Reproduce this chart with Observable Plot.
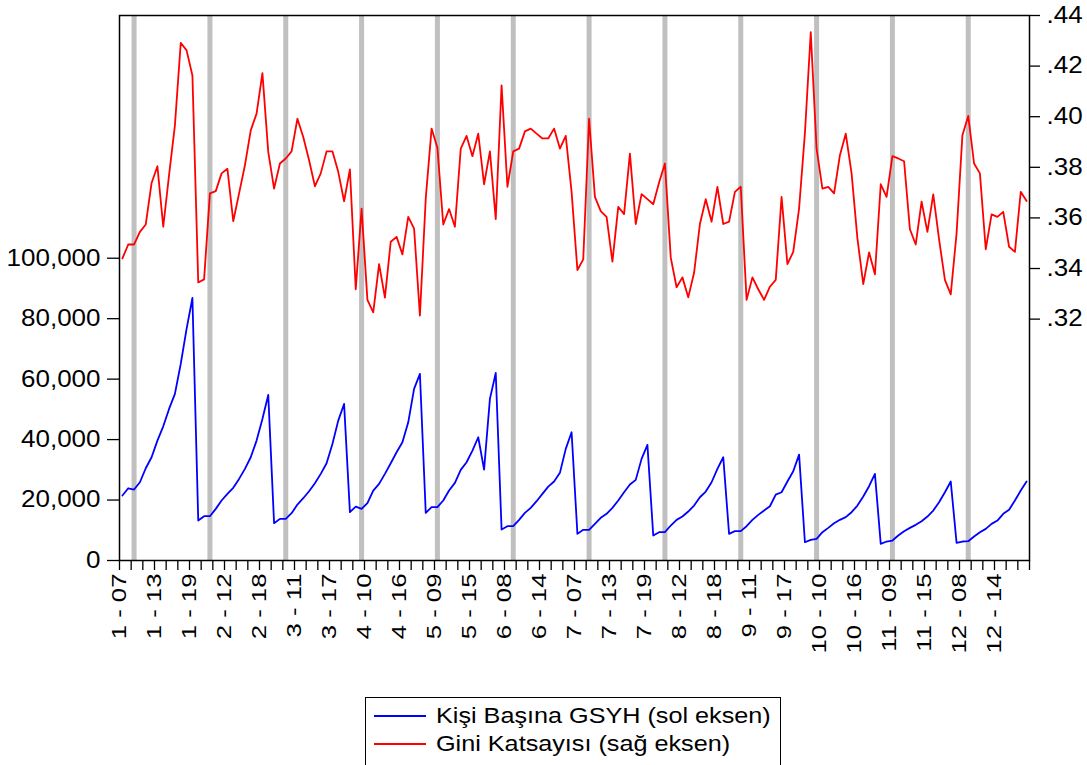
<!DOCTYPE html>
<html>
<head>
<meta charset="utf-8">
<script src="https://cdn.jsdelivr.net/npm/d3@7"></script>
<script src="https://cdn.jsdelivr.net/npm/@observablehq/plot@0.6"></script>
<style>
  body { margin: 0; background: #fff; font-family: "Liberation Sans", Arial, sans-serif; }
  #wrap { position: relative; width: 1087px; height: 765px; overflow: hidden; background: #fff; }
  #chart { position: absolute; left: 0; top: 0; }
  #legend { position: absolute; left: 365px; top: 697px; width: 416px; height: 90px;
            border: 1px solid #000; box-sizing: border-box; background: #fff; }
  .row { position: absolute; left: 0; height: 28px; display: flex; align-items: center; }
  .sw { width: 52px; height: 0; border-top: 2px solid; margin-left: 8px; margin-right: 10px; }
  .lt { font-size: 22.5px; color: #000; white-space: nowrap; display: inline-block;
        transform: scaleX(1.12); transform-origin: left center; }
</style>
</head>
<body>
<div id="wrap">
  <div id="chart"></div>
  <div id="legend">
    <div class="row" style="top:4px"><div class="sw" style="border-color:#0000ff"></div><span class="lt" id="l1"></span></div>
    <div class="row" style="top:32px"><div class="sw" style="border-color:#ff0000"></div><span class="lt" id="l2"></span></div>
  </div>
</div>
<script>
// ---- data ----
const units = [1, 2, 3, 4, 5, 6, 7, 8, 9, 10, 11, 12];
const years = ["07", "08", "09", "10", "11", "12", "13", "14", "15", "16", "17", "18", "19"];
const shadedYear = "09";

// Kişi Başına GSYH (left axis), by unit, years 2007..2019
const gdp = [
  21490, 23900, 23470, 25890, 30520, 34150, 39670, 44400, 50140, 55100, 65030, 76600, 86850,
  13220, 14650, 14650, 17080, 19840, 22040, 24030, 27000, 30300, 34150, 39670, 46840, 54780,
  12340, 13780, 13780, 15640, 18510, 20600, 22920, 25560, 28660, 32170, 38570, 46280, 51800,
  15980, 17850, 17080, 18950, 23140, 25360, 28660, 32170, 35810, 39110, 45720, 56760, 61720,
  15760, 17630, 17630, 19840, 23140, 25690, 29990, 32500, 36370, 40770, 30080, 53460, 62050,
  10250, 11340, 11340, 13450, 15760, 17410, 19620, 22040, 24460, 26120, 28990, 36920, 42420,
  8810, 10140, 10140, 12120, 14110, 15430, 17410, 19840, 22590, 25130, 26670, 33620, 38250,
  8270, 9370, 9370, 11570, 13450, 14550, 16200, 18180, 20930, 22810, 25890, 30300, 34150,
  8810, 9700, 9700, 11340, 13450, 15100, 16530, 17950, 21820, 22590, 26120, 29520, 35040,
  6050, 6840, 7170, 9370, 10800, 12340, 13450, 14330, 15980, 18180, 21160, 24570, 28660,
  5510, 6280, 6610, 8270, 9700, 10800, 11800, 12990, 14550, 16530, 19290, 22590, 26120,
  5840, 6280, 6380, 7930, 9370, 10470, 12120, 13220, 15430, 16760, 19840, 23140, 26120
];

// Gini Katsayısı (right axis)
const gini = [
  0.3440, 0.3495, 0.3495, 0.3545, 0.3574, 0.3738, 0.3804, 0.3565, 0.3770, 0.3966, 0.4292, 0.4262, 0.4163,
  0.3345, 0.3357, 0.3697, 0.3706, 0.3776, 0.3794, 0.3587, 0.3697, 0.3808, 0.3946, 0.4012, 0.4172, 0.3861,
  0.3716, 0.3815, 0.3835, 0.3863, 0.3992, 0.3920, 0.3828, 0.3725, 0.3776, 0.3863, 0.3863, 0.3782, 0.3666,
  0.3792, 0.3318, 0.3637, 0.3276, 0.3227, 0.3417, 0.3285, 0.3506, 0.3525, 0.3456, 0.3604, 0.3558, 0.3214,
  0.3677, 0.3953, 0.3877, 0.3574, 0.3635, 0.3565, 0.3874, 0.3924, 0.3844, 0.3933, 0.3733, 0.3863, 0.3595,
  0.4124, 0.3723, 0.3863, 0.3874, 0.3942, 0.3953, 0.3933, 0.3914, 0.3914, 0.3953, 0.3874, 0.3924, 0.3703,
  0.3394, 0.3436, 0.3992, 0.3683, 0.3627, 0.3604, 0.3427, 0.3644, 0.3615, 0.3854, 0.3576, 0.3694, 0.3674,
  0.3654, 0.3740, 0.3815, 0.3443, 0.3326, 0.3365, 0.3286, 0.3383, 0.3576, 0.3674, 0.3585, 0.3723, 0.3576,
  0.3585, 0.3703, 0.3723, 0.3276, 0.3365, 0.3318, 0.3276, 0.3328, 0.3355, 0.3683, 0.3417, 0.3466, 0.3637,
  0.3935, 0.4334, 0.3874, 0.3716, 0.3723, 0.3697, 0.3848, 0.3933, 0.3776, 0.3519, 0.3338, 0.3464, 0.3377,
  0.3733, 0.3683, 0.3844, 0.3835, 0.3824, 0.3555, 0.3495, 0.3664, 0.3545, 0.3693, 0.3515, 0.3355, 0.3298,
  0.3539, 0.3927, 0.4003, 0.3815, 0.3776, 0.3476, 0.3614, 0.3604, 0.3624, 0.3486, 0.3466, 0.3703, 0.3667
];

const xTickLabels = ["1 - 07", "1 - 13", "1 - 19", "2 - 12", "2 - 18", "3 - 11", "3 - 17", "4 - 10", "4 - 16",
  "5 - 09", "5 - 15", "6 - 08", "6 - 14", "7 - 07", "7 - 13", "7 - 19", "8 - 12", "8 - 18", "9 - 11", "9 - 17",
  "10 - 10", "10 - 16", "11 - 09", "11 - 15", "12 - 08", "12 - 14"];
const leftTicks = [0, 20000, 40000, 60000, 80000, 100000];
const rightTicks = [0.32, 0.34, 0.36, 0.38, 0.40, 0.42, 0.44];
const leftDomain = [0, 180300];
const rightDomain = [0.2246, 0.44];
const legendLabels = ["Kişi Başına GSYH (sol eksen)", "Gini Katsayısı (sağ eksen)"];

// ---- build ----
const obsKeys = units.flatMap(u => years.map(y => `${u} - ${y}`));
const idx = new Map(obsKeys.map((k, i) => [k, i]));
const rows = obsKeys.map((k, i) => ({key: k, i, gdp: gdp[i], gini: gini[i]}));
const shaded = units.map(u => idx.get(`${u} - ${shadedYear}`));

const toLeft = v => (v - rightDomain[0]) / (rightDomain[1] - rightDomain[0]) * (leftDomain[1] - leftDomain[0]) + leftDomain[0];
const fromLeft = d => (d - leftDomain[0]) / (leftDomain[1] - leftDomain[0]) * (rightDomain[1] - rightDomain[0]) + rightDomain[0];

const n = obsKeys.length;
const tickPos = d3.range(-0.5, n, 2);
const labelPos = xTickLabels.map(l => idx.get(l) - 0.5);
const fmtR = v => d3.format(".2f")(v).replace(/^0/, "");

const chart = Plot.plot({
  width: 1087,
  height: 692,
  marginLeft: 119,
  marginRight: 58,
  marginTop: 15,
  marginBottom: 132,
  style: {fontFamily: "'Liberation Sans', Arial, sans-serif", fontSize: "22px", color: "#000", background: "#fff", overflow: "visible"},
  x: {domain: [-0.5, n - 0.5], axis: null},
  y: {domain: leftDomain, axis: null},
  marks: [
    Plot.ruleX(shaded, {x: d => d, stroke: "#c0c0c0", strokeWidth: 5}),
    Plot.line(rows, {x: "i", y: "gdp", stroke: "#0000ff", strokeWidth: 1.8}),
    Plot.line(rows, {x: "i", y: d => toLeft(d.gini), stroke: "#ff0000", strokeWidth: 1.8}),
    Plot.frame({stroke: "#000", strokeWidth: 1.5}),
    Plot.axisY({anchor: "left", ticks: leftTicks, tickFormat: d3.format(","), tickSize: 12, tickPadding: 7, fontSize: 23, label: null, stroke: "#000", strokeWidth: 1.3}),
    Plot.axisY({anchor: "right", ticks: rightTicks.map(toLeft), tickFormat: d => fmtR(fromLeft(d)), tickSize: 10, tickPadding: 7, fontSize: 23, label: null, stroke: "#000", strokeWidth: 1.3}),
    Plot.axisX({ticks: tickPos, tickFormat: () => "", tickSize: 10, label: null, stroke: "#000", strokeWidth: 1.3}),
    Plot.axisX({ticks: labelPos, tickFormat: d => obsKeys[Math.round(d + 0.5)], tickSize: 0, tickPadding: 13, tickRotate: -90, fontSize: 19.5, label: null})
  ]
});
document.getElementById("chart").append(chart);

// widen tick label glyphs to match the reference's stretched type
chart.querySelectorAll("g[aria-label='y-axis tick label'] text").forEach(t => {
  const L = t.getComputedTextLength();
  if (L > 0) { t.setAttribute("textLength", (L * 1.13).toFixed(1)); t.setAttribute("lengthAdjust", "spacingAndGlyphs"); }
});
chart.querySelectorAll("g[aria-label='x-axis tick label'] text").forEach(t => {
  const L = t.getComputedTextLength();
  if (L > 0) { t.setAttribute("textLength", (L * 1.32).toFixed(1)); t.setAttribute("lengthAdjust", "spacingAndGlyphs"); }
});

document.getElementById("l1").textContent = legendLabels[0];
document.getElementById("l2").textContent = legendLabels[1];
</script>
</body>
</html>
